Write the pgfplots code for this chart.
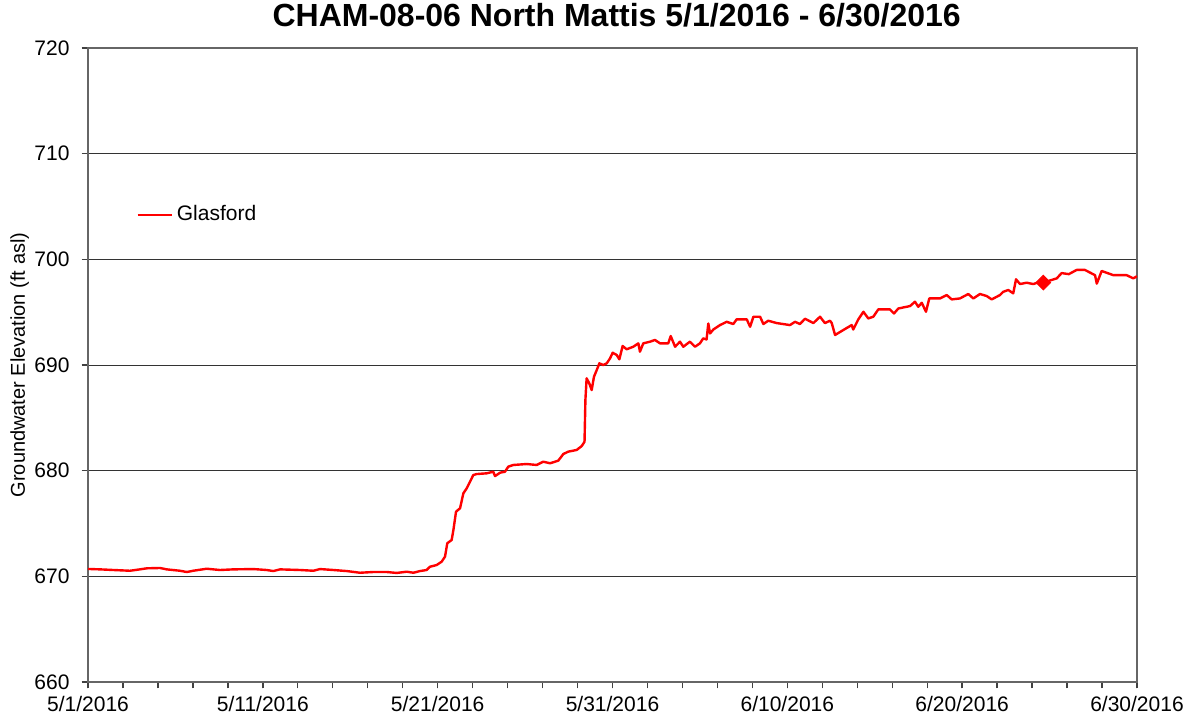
\documentclass[border=0pt]{standalone}
\usepackage{fontspec}
\setmainfont{Liberation Sans}
\usepackage{pgfplots}
\pgfplotsset{compat=1.18}
\begin{document}
\begin{tikzpicture}
\begin{axis}[
  scale only axis,
  width=524.5pt, height=317pt,
  xmin=0, xmax=60, ymin=660, ymax=720,
  xtick={0,10,...,60},
  xticklabels={5/1/2016,5/11/2016,5/21/2016,5/31/2016,6/10/2016,6/20/2016,6/30/2016},
  minor xtick={0,2,...,60},
  ytick={660,670,...,720},
  tick align=outside,
  tick pos=left,
  major tick length=3.2pt,
  minor tick length=3.2pt,
  every tick/.style={gray!50!black, line width=0.7pt},
  every minor tick/.style={gray!50!black, line width=0.7pt},
  axis line style={gray!80!black, line width=0.8pt},
  ymajorgrids,
  major grid style={black!80, line width=0.5pt},
  /pgf/number format/assume math mode=true,
  yticklabel style={/pgf/number format/1000 sep={}, xshift=-2.5pt},
  xticklabel style={yshift=-0.5pt},
  ticklabel style={font=\fontsize{10.5}{12}\selectfont, black},
  ylabel={Groundwater Elevation (ft asl)},
  ylabel style={at={(axis description cs:-0.065,0.5)}, anchor=center, font=\fontsize{10}{12}\selectfont},
  title={\textbf{CHAM-08-06 North Mattis 5/1/2016 - 6/30/2016}},
  title style={at={(axis description cs:0.504,1)}, anchor=base, yshift=5pt, font=\fontsize{16}{19}\selectfont},
  legend style={at={(axis description cs:0.04,0.737)}, anchor=west, draw=none, fill=none, font=\fontsize{10.5}{12}\selectfont},
  legend cell align=left,
]
\addplot[red, line width=1.2pt, line join=round] coordinates {
(0,670.70)(0.69,670.66)(1.45,670.60)(2.40,670.53)(2.97,670.66)(3.36,670.76)(4.12,670.79)(4.50,670.66)(5.26,670.53)(5.65,670.41)(6.02,670.53)(6.79,670.72)(7.55,670.60)(8.31,670.66)(9.46,670.69)(10.22,670.60)(10.60,670.50)(10.98,670.66)(12.13,670.60)(12.89,670.53)(13.27,670.69)(14.03,670.60)(14.80,670.50)(15.56,670.34)(16.32,670.41)(17.09,670.41)(17.66,670.32)(18.23,670.44)(18.61,670.34)(18.99,670.50)(19.37,670.60)(19.56,670.91)(19.94,671.07)(20.23,671.39)(20.42,671.86)(20.55,673.13)(20.80,673.44)(20.90,674.38)(21.05,676.12)(21.28,676.44)(21.47,677.86)(21.66,678.33)(21.85,678.96)(22.04,679.59)(22.23,679.68)(22.80,679.75)(23.18,679.90)(23.28,679.49)(23.57,679.81)(23.85,679.90)(24.04,680.38)(24.33,680.54)(25.09,680.63)(25.66,680.54)(26.04,680.85)(26.43,680.70)(26.90,680.95)(27.19,681.58)(27.47,681.80)(27.95,681.96)(28.24,682.33)(28.40,682.74)(28.45,686.7)(28.52,688.74)(28.67,688.27)(28.81,687.63)(28.94,688.89)(29.10,689.53)(29.25,690.16)(29.47,690.00)(29.67,690.16)(29.86,690.63)(30.01,691.16)(30.24,690.95)(30.39,690.54)(30.58,691.80)(30.81,691.49)(31.19,691.73)(31.48,692.05)(31.57,691.26)(31.76,692.05)(32.15,692.21)(32.43,692.37)(32.72,692.05)(33.19,692.05)(33.33,692.74)(33.58,691.73)(33.86,692.21)(34.05,691.73)(34.43,692.21)(34.72,691.73)(35.00,692.05)(35.19,692.52)(35.38,692.42)(35.48,693.93)(35.58,692.99)(35.77,693.36)(36.15,693.78)(36.53,694.09)(36.91,693.88)(37.10,694.32)(37.68,694.32)(37.87,693.62)(38.06,694.57)(38.44,694.57)(38.63,693.88)(38.91,694.19)(39.39,693.97)(40.15,693.78)(40.44,694.09)(40.72,693.88)(41.01,694.38)(41.49,693.97)(41.87,694.57)(42.15,693.97)(42.44,694.19)(42.54,693.97)(42.73,692.84)(43.11,693.22)(43.68,693.78)(43.77,693.36)(44.06,694.32)(44.35,695.04)(44.63,694.41)(44.92,694.57)(45.20,695.26)(45.87,695.26)(46.10,694.88)(46.35,695.35)(47.02,695.58)(47.30,695.99)(47.49,695.51)(47.69,695.89)(47.93,695.04)(48.12,696.30)(48.73,696.30)(49.12,696.62)(49.40,696.21)(49.87,696.30)(50.35,696.72)(50.64,696.30)(51.02,696.72)(51.40,696.53)(51.69,696.21)(52.16,696.62)(52.35,696.93)(52.64,697.10)(52.92,696.78)(53.08,698.11)(53.31,697.66)(53.69,697.79)(54.07,697.66)(54.45,697.88)(54.64,697.8)(55.41,698.2)(55.69,698.7)(56.10,698.6)(56.55,699.0)(57.02,699.0)(57.60,698.5)(57.70,697.7)(57.98,698.9)(58.65,698.5)(59.41,698.5)(59.79,698.2)(60,698.4)
};
\addlegendentry{Glasford}
\addplot[only marks, mark=square*, mark size=2.6pt, mark options={rotate=45, red, fill=red}, forget plot] coordinates {(54.64,697.8)};
\end{axis}
\pgfresetboundingbox
\path[use as bounding box] (current axis.south west) ++(-44pt,-19pt) rectangle ++(597pt,360pt);
\end{tikzpicture}
\end{document}
